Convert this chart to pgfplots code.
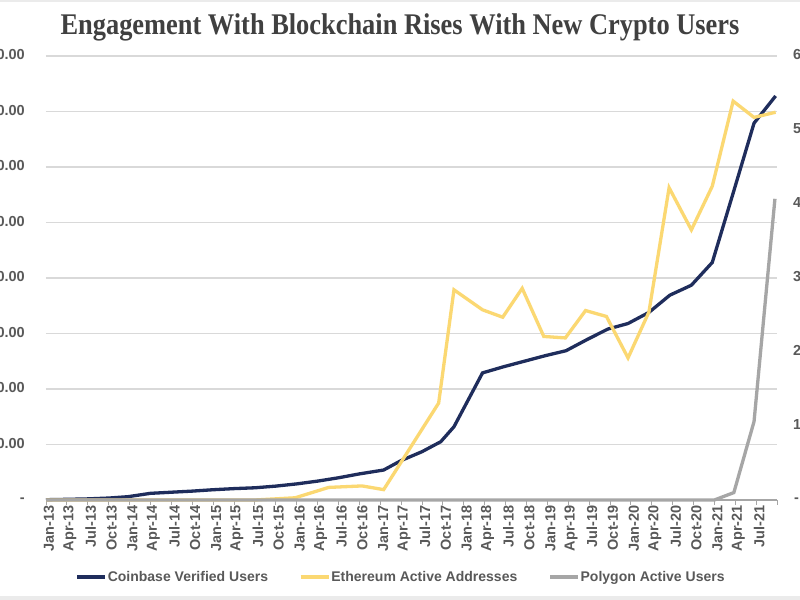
\documentclass[border=0pt]{standalone}
\usepackage{fontspec}
\setmainfont{Liberation Sans}
\newfontfamily\titlefont{Liberation Serif}
\usepackage{pgfplots}
\pgfplotsset{compat=1.18}
\definecolor{cbnavy}{HTML}{1F2D5C}
\definecolor{ethy}{HTML}{FBD872}
\definecolor{polyg}{HTML}{A6A6A6}
\definecolor{txt}{HTML}{595959}
\definecolor{grd}{HTML}{D9D9D9}
\definecolor{ttl}{HTML}{404040}
\newcommand\lab{\fontsize{14bp}{16bp}\selectfont\bfseries}
\newcommand\tlab{\fontsize{14.5bp}{16bp}\selectfont\bfseries}
\begin{document}
\begin{tikzpicture}[x=1bp,y=1bp]
\fill[white] (0,0) rectangle (800,600);
\fill[black!8] (0,598) rectangle (800,600);
\fill[black!8] (0,0) rectangle (800,4);
\node[text=ttl, font={\titlefont\bfseries\fontsize{30bp}{32bp}\selectfont}] at (400,573) {\scalebox{0.88}[1]{Engagement With Blockchain Rises With New Crypto Users}};
\begin{axis}[
  at={(46bp,100bp)}, anchor=south west, scale only axis,
  width=731bp, height=444bp,
  xmin=0, xmax=105, ymin=0, ymax=80, clip=false,
  axis x line*=bottom, axis y line*=left,
  y axis line style={draw=none},
  x axis line style={draw=polyg, line width=1.5bp, -},
  xtick={0,3,...,105},
  xticklabels={Jan-13,Apr-13,Jul-13,Oct-13,Jan-14,Apr-14,Jul-14,Oct-14,Jan-15,Apr-15,Jul-15,Oct-15,Jan-16,Apr-16,Jul-16,Oct-16,Jan-17,Apr-17,Jul-17,Oct-17,Jan-18,Apr-18,Jul-18,Oct-18,Jan-19,Apr-19,Jul-19,Oct-19,Jan-20,Apr-20,Jul-20,Oct-20,Jan-21,Apr-21,Jul-21,{}},
  xticklabel style={rotate=90, anchor=east, inner sep=0pt, font=\tlab, text=txt, yshift=-3bp},
  ytick={0,10,...,80},
  yticklabels={{-\hspace{4bp}},{10,000,000.00},{20,000,000.00},{30,000,000.00},{40,000,000.00},{50,000,000.00},{60,000,000.00},{70,000,000.00},{80,000,000.00}},
  yticklabel style={anchor=east, inner sep=0pt, font=\tlab, text=txt, xshift=-16bp},
  ymajorgrids, grid style={draw=grd, line width=1.3bp},
  major tick length=5bp, tick align=outside,
  xtick style={draw=polyg, line width=0.8bp}, ytick style={draw=none},
]
\addplot[cbnavy, line width=3.3bp] coordinates {
(0,0.05) (3,0.12) (6,0.2) (9,0.35) (11.8,0.6) (15,1.2) (18,1.4) (21,1.6) (24,1.85) (27,2.05) (30,2.2) (33,2.5) (36,2.9) (39,3.4) (42,4.0) (45,4.7) (48.5,5.4) (51,7.1) (54,8.7) (56.7,10.5) (58.6,13.2) (62.7,22.9) (65.7,24.0) (68.7,25.0) (71.7,26.0) (74.7,26.9) (77.7,28.9) (80.7,30.8) (83.6,31.8) (86.6,33.8) (89.6,36.9) (92.7,38.7) (95.7,42.8) (98.7,55.3) (101.7,67.9) (104.8,72.8)
};
\end{axis}
\begin{axis}[
  at={(46bp,100bp)}, anchor=south west, scale only axis,
  width=731bp, height=444bp,
  xmin=0, xmax=105, ymin=0, ymax=6, clip=false,
  axis x line=none, axis y line*=right,
  y axis line style={draw=none},
  ytick={0,1,...,6},
  yticklabels={{\hspace{1bp}-},{1,000,000},{2,000,000},{3,000,000},{4,000,000},{5,000,000},{6,000,000}},
  yticklabel style={anchor=west, inner sep=0pt, font=\tlab, text=txt, xshift=16bp},
  ytick style={draw=none},
  legend style={at={(0.485,-0.1734)}, anchor=center, draw=none, fill=none,
    font=\lab, text=txt, nodes={inner sep=1bp},
    /tikz/every even column/.append style={column sep=30bp}},
  legend columns=3,
  legend image code/.code={\draw[#1] (0bp,0bp) -- (28bp,0bp);},
]
\addlegendimage{cbnavy, line width=3.3bp}
\addlegendentry{Coinbase Verified Users}
\addplot[ethy, line width=3.3bp] coordinates {
(0,0) (30,0) (35.8,0.03) (40.6,0.17) (45.4,0.19) (48.5,0.14) (56.4,1.31) (58.6,2.84) (62.7,2.57) (65.6,2.47) (68.4,2.86) (71.5,2.21) (74.6,2.19) (77.5,2.56) (80.5,2.48) (83.6,1.92) (86.6,2.54) (89.5,4.22) (92.7,3.65) (95.7,4.24) (98.7,5.39) (101.7,5.17) (104.8,5.24)
};
\addlegendentry{Ethereum Active Addresses}
\addplot[polyg, line width=3.3bp] coordinates {
(0,0) (96,0) (98.8,0.1) (101.7,1.06) (104.7,4.07)
};
\addlegendentry{Polygon Active Users}
\end{axis}
\pgfresetboundingbox
\useasboundingbox (0,0) rectangle (800,600);
\end{tikzpicture}
\end{document}
